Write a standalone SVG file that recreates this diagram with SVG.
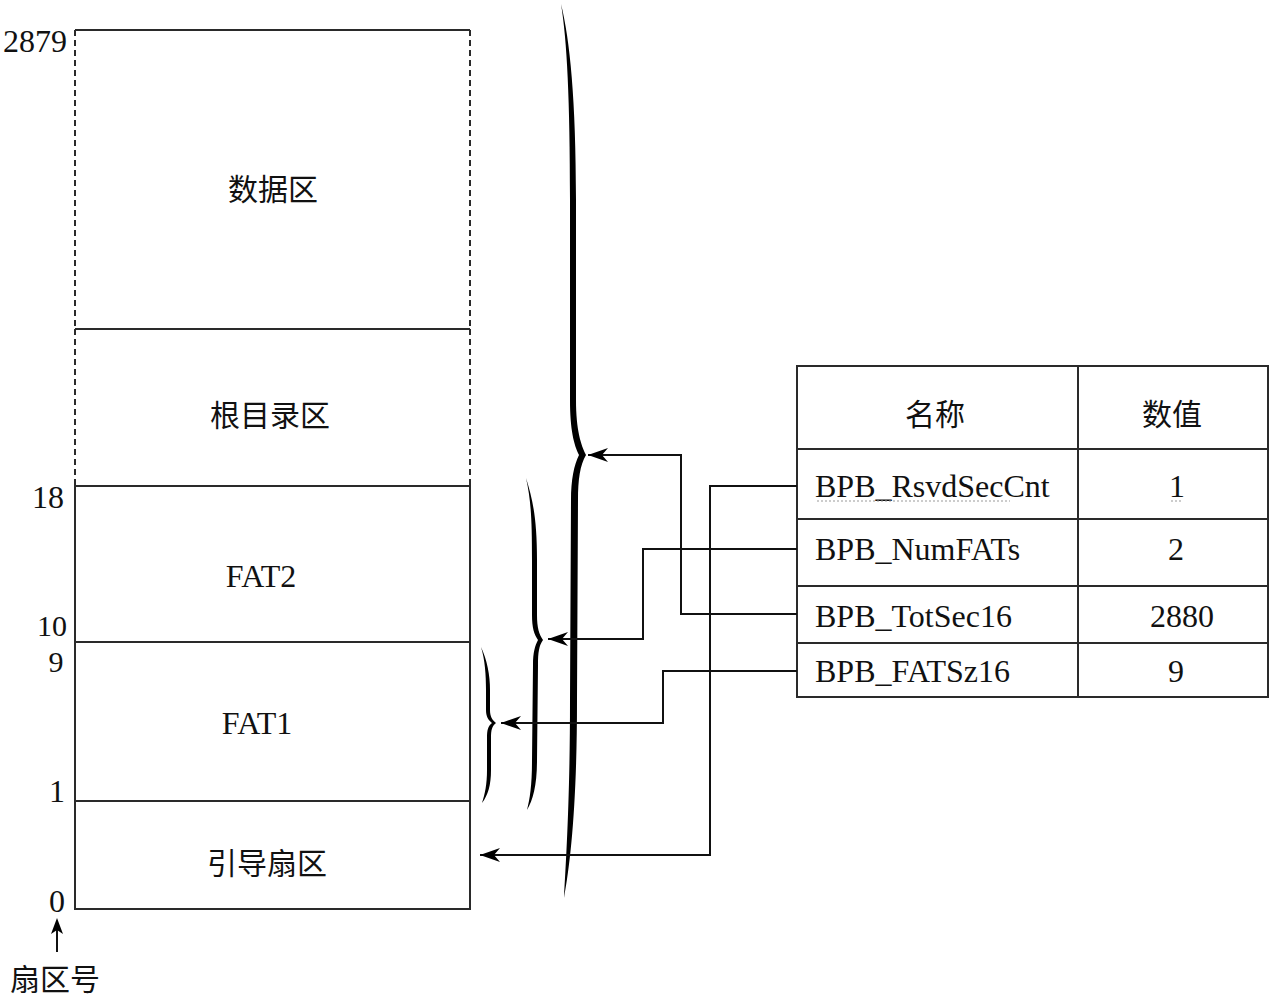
<svg xmlns="http://www.w3.org/2000/svg" width="1280" height="1001" viewBox="0 0 1280 1001">
<style>
.t{font-family:"Liberation Serif","Noto Sans CJK SC",serif;font-size:32px;fill:#111}
.n{font-family:"Liberation Serif",serif;font-size:30px;fill:#111}
.c{font-family:"Noto Sans CJK SC","Liberation Serif",sans-serif;font-size:30px;fill:#111}
.ln{stroke:#2a2a2a;stroke-width:2;fill:none}
.dash{stroke:#2a2a2a;stroke-width:2;fill:none;stroke-dasharray:6 4}
.conn{stroke:#111;stroke-width:2;fill:none;marker-end:url(#ah)}
.brace{fill:#000}
.dot{stroke:#999;stroke-width:1;stroke-dasharray:2 2;fill:none}
</style>
<defs>
<marker id="ah" markerUnits="userSpaceOnUse" markerWidth="22" markerHeight="16" refX="20" refY="8" orient="auto">
<path d="M0,1 L20,8 L0,15 L6,8 Z" fill="#000"/>
</marker>
</defs>
<rect width="1280" height="1001" fill="#fff"/>

<g id="data-area">
<line class="ln" x1="75" y1="30" x2="470" y2="30"/>
<line class="dash" x1="75" y1="30" x2="75" y2="329"/>
<line class="dash" x1="470" y1="30" x2="470" y2="329"/>
<text class="c" x="273" y="200" text-anchor="middle">数据区</text>
</g>
<g id="root-dir">
<line class="ln" x1="75" y1="329" x2="470" y2="329"/>
<line class="dash" x1="75" y1="329" x2="75" y2="486"/>
<line class="dash" x1="470" y1="329" x2="470" y2="486"/>
<text class="c" x="270" y="426" text-anchor="middle">根目录区</text>
</g>
<g id="fat2">
<rect class="ln" x="75" y="486" width="395" height="156"/>
<text class="t" x="261" y="587" text-anchor="middle">FAT2</text>
</g>
<g id="fat1">
<rect class="ln" x="75" y="642" width="395" height="159"/>
<text class="t" x="257" y="734" text-anchor="middle">FAT1</text>
</g>
<g id="boot-sector">
<rect class="ln" x="75" y="801" width="395" height="108"/>
<text class="c" x="267" y="874" text-anchor="middle">引导扇区</text>
</g>

<g id="sector-numbers">
<text class="t" x="3" y="52">2879</text>
<text class="t" x="32" y="508">18</text>
<text class="n" x="37" y="636">10</text>
<text class="n" x="56" y="672" text-anchor="middle">9</text>
<text class="t" x="57" y="802" text-anchor="middle">1</text>
<text class="t" x="57" y="912" text-anchor="middle">0</text>
</g>
<g id="sector-axis">
<line x1="57" y1="952" x2="57" y2="930" stroke="#111" stroke-width="2"/>
<path d="M57,918 L51,934 L57,930 L63,934 Z" fill="#000"/>
<text class="c" x="55" y="990" text-anchor="middle">扇区号</text>
</g>

<g id="brace-all">
<path class="brace" d="M561,4 C570,40 576,100 576,200 L576,400 C576,430 581,445 586,455 C580,465 578,480 578,500 L577,700 C577,800 571,860 564,898 C566,860 570,800 570,700 L571,500 C571,480 574,465 579,455 C574,445 570,430 570,400 L570,200 C570,100 567,40 561,4 Z"/>
</g>
<g id="brace-fats">
<path class="brace" d="M526,478 C533,500 537,520 537,560 L537,615 C537,628 539,634 543,640 C539,646 538,652 538,665 L537,760 C537,785 533,800 527,810 C530,798 532,785 532,760 L533,665 C533,652 535,646 538,640 C534,634 532,628 532,615 L532,560 C532,520 531,500 526,478 Z"/>
</g>
<g id="brace-fat1">
<path class="brace" d="M481,647 C487,660 490,675 490,690 L490,710 C490,716 492,720 496,723 C492,726 491,730 491,738 L491,770 C491,785 488,795 482,803 C485,794 487,784 487,770 L487,738 C487,730 488,726 492,723 C488,720 486,716 486,710 L486,690 C486,675 485,660 481,647 Z"/>
</g>

<g id="bpb-table">
<rect class="ln" x="797" y="366" width="471" height="331"/>
<line class="ln" x1="1078" y1="366" x2="1078" y2="697"/>
<line class="ln" x1="797" y1="449" x2="1268" y2="449"/>
<line class="ln" x1="797" y1="519" x2="1268" y2="519"/>
<line class="ln" x1="797" y1="586" x2="1268" y2="586"/>
<line class="ln" x1="797" y1="643" x2="1268" y2="643"/>
<text class="c" x="935" y="425" text-anchor="middle">名称</text>
<text class="c" x="1172" y="425" text-anchor="middle">数值</text>
<text class="t" x="815" y="497">BPB_RsvdSecCnt</text>
<line class="dot" x1="817" y1="501" x2="1010" y2="501"/>
<text class="t" x="1177" y="497" text-anchor="middle">1</text>
<line class="dot" x1="1171" y1="501" x2="1183" y2="501"/>
<text class="t" x="815" y="560">BPB_NumFATs</text>
<text class="t" x="1176" y="560" text-anchor="middle">2</text>
<text class="t" x="815" y="627">BPB_TotSec16</text>
<text class="t" x="1182" y="627" text-anchor="middle">2880</text>
<text class="t" x="815" y="682">BPB_FATSz16</text>
<text class="t" x="1176" y="682" text-anchor="middle">9</text>
</g>

<g id="connectors">
<path class="conn" d="M797,614 H681 V455 H588"/>
<path class="conn" d="M797,549 H643 V639 H548"/>
<path class="conn" d="M797,486 H710 V855 H480"/>
<path class="conn" d="M797,671 H663 V723 H501"/>
</g>
</svg>
